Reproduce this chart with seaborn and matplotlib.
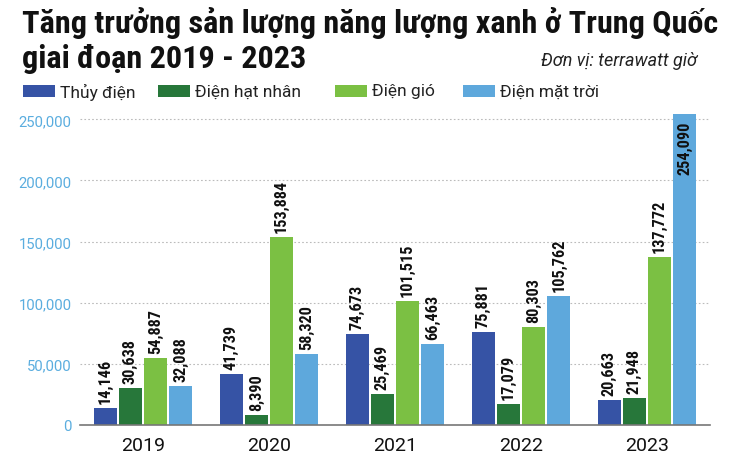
import os
import matplotlib
matplotlib.use("Agg")
import matplotlib.pyplot as plt
from matplotlib import font_manager as fm
import seaborn as sns
import pandas as pd
from matplotlib.patches import Rectangle
from matplotlib.ticker import FuncFormatter, FixedLocator

years = ["2019", "2020", "2021", "2022", "2023"]
series = ["Thủy điện", "Điện hạt nhân", "Điện gió", "Điện mặt trời"]
thuy_dien = [14146, 41739, 74673, 75881, 20663]
hat_nhan = [30638, 8390, 25469, 17079, 21948]
dien_gio = [54887, 153884, 101515, 80303, 137772]
mat_troi = [32088, 58320, 66463, 105762, 254090]
colors = ["#3653a5", "#27773a", "#7bc043", "#5ea8dc"]
title_lines = ["Tăng trưởng sản lượng năng lượng xanh ở Trung Quốc", "giai đoạn 2019 - 2023"]
unit_text = "Đơn vị: terrawatt giờ"

rows = []
for name, vals in zip(series, [thuy_dien, hat_nhan, dien_gio, mat_troi]):
    for y, v in zip(years, vals):
        rows.append({"year": y, "type": name, "value": v})
df = pd.DataFrame(rows)

sns.set_theme(style="white")
plt.rcParams["font.family"] = ["Roboto", "DejaVu Sans"]

files = {}
for f in fm.fontManager.ttflist:
    b = os.path.splitext(os.path.basename(f.fname))[0].lower()
    files.setdefault(b, f.fname)


def pick(names, fallback):
    for n in names:
        if n in files:
            return fm.FontProperties(fname=files[n])
    return fallback


BOLD_C = pick(["robotocondensed-bold", "notosans-condensedbold", "opensans-condbold",
               "opensans_condensed-bold", "opensanscondensed-bold", "dejavusanscondensed-bold",
               "liberationsansnarrow-bold", "notosans-semicondensedbold"],
              fm.FontProperties(family="DejaVu Sans", weight="bold"))

W, H = 730, 456
fig = plt.figure(figsize=(W/100, H/100), dpi=100)
renderer = fig.canvas.get_renderer()


def fit_size(text, fp, base, target_px, lo, hi):
    t = fig.text(0, 0, text, fontproperties=fp, fontsize=base)
    w = t.get_window_extent(renderer).width
    t.remove()
    return max(lo, min(hi, base * target_px / w))


ax = fig.add_axes([80/W, 1-426/H, 630/W, 313/H])

sns.barplot(data=df, x="year", y="value", hue="type", order=years, hue_order=series,
            palette=colors, width=0.8, gap=0.1, saturation=1, ax=ax, legend=False,
            edgecolor="none")

ax.set_ylim(0, 256000)
ax.set_xlim(-0.5, 4.5)
ax.set_yticks([0, 50000, 100000, 150000, 200000, 250000])
ax.yaxis.set_major_formatter(FuncFormatter(lambda v, p: f"{int(v):,}"))
ax.tick_params(axis="y", length=0, labelsize=10.7, labelcolor="#5aaddf", pad=6)
ax.tick_params(axis="x", which="major", length=0, labelsize=14, pad=8, labelcolor="#111111")
ax.xaxis.set_minor_locator(FixedLocator([-0.5, 0.5, 1.5, 2.5, 3.5, 4.5]))
ax.tick_params(axis="x", which="minor", direction="in", length=9, width=1, color="#555555")
ax.set_xlabel("")
ax.set_ylabel("")
for s in ["top", "right", "left"]:
    ax.spines[s].set_visible(False)
ax.spines["bottom"].set_color("#777777")
ax.spines["bottom"].set_linewidth(1.2)
ax.yaxis.grid(True, linestyle=(0, (1.5, 2)), color="#bbbbbb", linewidth=0.8)
ax.set_axisbelow(True)

lab_size = fit_size("54,887", BOLD_C, 13, 45, 10, 14)
for cont in ax.containers:
    for bar in cont:
        h = bar.get_height()
        x = bar.get_x() + bar.get_width() / 2
        txt = f"{int(h):,}"
        if h > 240000:
            ax.text(x, h - 5500, txt, rotation=90, ha="center", va="top",
                    fontproperties=BOLD_C, fontsize=lab_size, color="#111111")
        else:
            ax.text(x, h + 4000, txt, rotation=90, ha="center", va="bottom",
                    fontproperties=BOLD_C, fontsize=lab_size, color="#111111")

title_size = fit_size(title_lines[0], BOLD_C, 24, 698, 14, 27)
fig.text(22/W, 1-33/H, title_lines[0], ha="left", va="baseline", fontproperties=BOLD_C,
         fontsize=title_size, color="#111111")
fig.text(22/W, 1-68/H, title_lines[1], ha="left", va="baseline", fontproperties=BOLD_C,
         fontsize=title_size, color="#111111")
fig.text(697/W, 1-61/H, unit_text, ha="right", va="center",
         fontsize=13, style="italic", color="#222222")

leg_x = [23, 158, 335, 463]
for lx, c, name in zip(leg_x, colors, series):
    fig.patches.append(Rectangle((lx/W, 1-98/H), 32/W, 12/H, facecolor=c, edgecolor="none",
                                 transform=fig.transFigure, figure=fig))
    fig.text((lx+37)/W, 1-92/H, name, ha="left", va="center",
             fontsize=12.5, color="#222222")

fig.savefig("out.png", dpi=100)
